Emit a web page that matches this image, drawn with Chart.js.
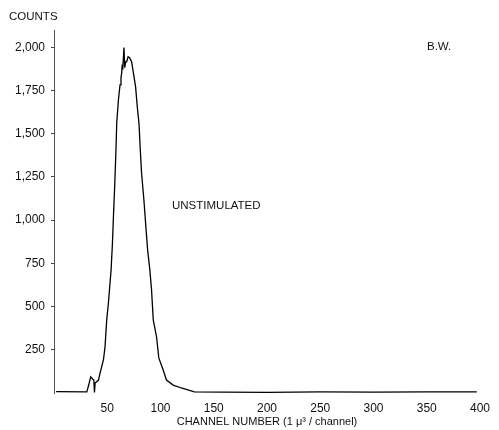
<!DOCTYPE html>
<html>
<head>
<meta charset="utf-8">
<script src="https://cdn.jsdelivr.net/npm/chart.js@4.4.1/dist/chart.umd.min.js"></script>
<style>
  html, body { margin: 0; padding: 0; background: #fff; }
</style>
</head>
<body>
<canvas id="pulseChart" width="499" height="430"></canvas>
<script>
// channel number and counts
const channels = [2, 30.8, 32.6, 34.5, 36.2, 37.4, 38, 38.6, 39.3, 41.8, 43.3, 46.4, 47.9, 49.5, 51.1, 53.6, 54.9, 55.8, 57.1, 58.2, 58.9, 60.5, 62, 62.9, 63.6, 64, 64.5, 65.7, 66.4, 67.3, 68.2, 69.6, 71, 72.9, 74.5, 76.6, 78.2, 79.8, 80.9, 82.2, 84.4, 86, 87.9, 90, 91.6, 93.2, 96.3, 98.4, 102.5, 105.6, 111.9, 119.6, 131.8, 160, 200, 250, 300, 350, 397];
const counts = [8, 6, 46, 93, 81, 75, 3, 58, 58, 75, 116, 191, 266, 423, 521, 712, 869, 1019, 1216, 1407, 1563, 1696, 1783, 1824, 1853, 1900, 1870, 1998, 1882, 1916, 1916, 1945, 1940, 1916, 1853, 1772, 1656, 1560, 1420, 1274, 1118, 984, 828, 712, 596, 423, 324, 203, 133, 75, 46, 29, 6, 5, 4, 7, 5, 6, 6];

const xTicks = [50, 100, 150, 200, 250, 300, 350, 400];
const yTicks = [250, 500, 750, 1000, 1250, 1500, 1750, 2000];

const points = channels.map((c, i) => ({ x: c, y: counts[i] }));

const fontFamily = '"Liberation Sans", Arial, sans-serif';

// free text on the plot
const notes = {
    id: 'notes',
    afterDraw(chart) {
        const c = chart.ctx;
        c.save();
        c.fillStyle = '#111';
        c.font = '11.5px ' + fontFamily;
        c.textBaseline = 'middle';
        c.fillText('COUNTS', 9, 17);
        c.fillText('B.W.', 427, 47);
        c.fillText('UNSTIMULATED', 172, 206);
        c.restore();
    }
};

const ctx = document.getElementById('pulseChart').getContext('2d');
new Chart(ctx, {
    type: 'line',
    data: {
        datasets: [{
            data: points,
            borderColor: '#000',
            borderWidth: 1.3,
            pointRadius: 0,
            tension: 0,
            fill: false
        }]
    },
    options: {
        responsive: false,
        animation: false,
        layout: { padding: { top: 30, right: 19, left: 0, bottom: 0 } },
        plugins: { legend: { display: false }, tooltip: { enabled: false } },
        scales: {
            x: {
                type: 'linear',
                min: 0,
                max: 400,
                afterBuildTicks: s => { s.ticks = xTicks.map(v => ({ value: v })); },
                afterFit: s => { s.height = 37; },
                grid: { display: false, drawTicks: false },
                border: { display: false },
                ticks: {
                    color: '#111',
                    padding: 8,
                    maxRotation: 0,
                    font: { family: fontFamily, size: 12 }
                },
                title: {
                    display: true,
                    text: 'CHANNEL NUMBER (1 μ³ / channel)',
                    color: '#111',
                    padding: { top: 0, bottom: 1 },
                    font: { family: fontFamily, size: 11 }
                }
            },
            y: {
                min: 0,
                max: 2100,
                afterBuildTicks: s => { s.ticks = yTicks.map(v => ({ value: v })); },
                afterFit: s => { s.width = 54; },
                grid: { drawOnChartArea: false, tickLength: 3, color: '#444' },
                border: { display: true, color: '#555', width: 1 },
                ticks: {
                    color: '#111',
                    padding: 6,
                    font: { family: fontFamily, size: 12 },
                    callback: v => v.toLocaleString('en-US')
                }
            }
        }
    },
    plugins: [notes]
});
</script>
</body>
</html>
